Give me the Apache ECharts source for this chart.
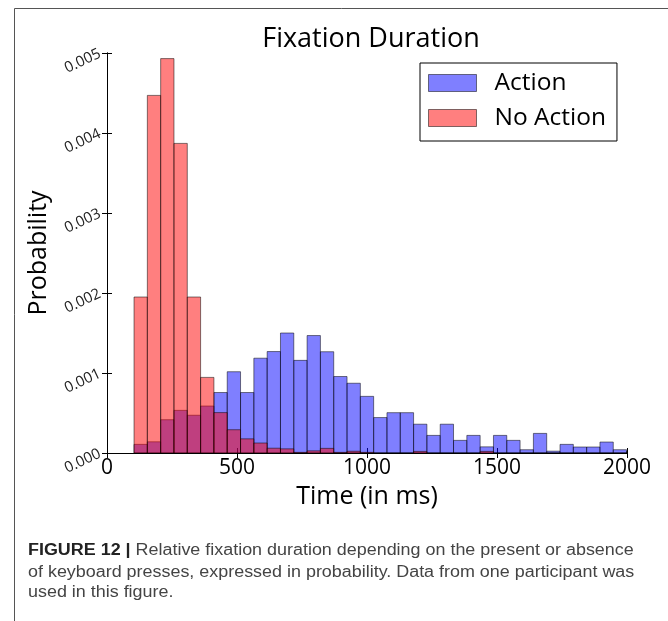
<!DOCTYPE html>
<html>
<head>
<meta charset="utf-8">
<script src="https://cdn.jsdelivr.net/npm/echarts@6/dist/echarts.min.js"></script>
<style>
html,body{margin:0;padding:0;background:#fff;}
#chart{width:668px;height:621px;}
</style>
</head>
<body>
<div id="chart"></div>
<script>
// Histogram bins (ms)
const binStart = 104;
const binWidth = 51.2;
// Probability density per bin
const actionValues = [
  0.000108, 0.000140, 0.000416, 0.000533, 0.000472, 0.000587, 0.000756, 0.001016,
  0.000756, 0.001185, 0.001268, 0.001500, 0.001158, 0.001468, 0.001266, 0.000956,
  0.000872, 0.000708, 0.000443, 0.000504, 0.000504, 0.000360, 0.000220, 0.000360,
  0.000158, 0.000220, 0.000077, 0.000220, 0.000158, 0.000041, 0.000245, 0.000023,
  0.000108, 0.000075, 0.000075, 0.000137, 0.000041, 0.000020
];
const noActionValues = [
  0.001950, 0.004470, 0.004930, 0.003870, 0.001950, 0.000945, 0.000505, 0.000291,
  0.000177, 0.000125, 0.000060, 0.000052, 0.000008, 0.000027, 0.000058, 0.000008,
  0.000022, 0.000008, 0, 0, 0, 0.000020, 0, 0,
  0, 0, 0.000020, 0, 0, 0, 0, 0,
  0, 0, 0, 0, 0, 0
];
const xTicks = [0, 500, 1000, 1500, 2000];
const yTicks = [0, 0.001, 0.002, 0.003, 0.004, 0.005];
const seriesNames = ['Action', 'No Action'];
const titleText = 'Fixation Duration';
const xName = 'Time (in ms)';
const yName = 'Probability';
const captionBold = 'FIGURE 12 |';
const captionLines = [
  'Relative fixation duration depending on the present or absence',
  'of keyboard presses, expressed in probability. Data from one participant was',
  'used in this figure.'
];

const FONT = '"Open Sans", "DejaVu Sans", sans-serif';
const CAPFONT = '"Liberation Sans", Arial, sans-serif';
const blueFill = 'rgba(0,0,255,0.5)';
const redFill = 'rgba(255,0,0,0.5)';
const edge = 'rgba(0,0,0,0.5)';

function toBins(vals) {
  return vals.map((v, i) => [binStart + i * binWidth, binStart + (i + 1) * binWidth, v]);
}

function makeRender(fill) {
  return function (params, api) {
    const x0 = api.value(0), x1 = api.value(1), v = api.value(2);
    const p0 = api.coord([x0, v]);
    const p1 = api.coord([x1, 0]);
    const cs = params.coordSys;
    const rect = echarts.graphic.clipRectByRect(
      { x: p0[0], y: p0[1], width: p1[0] - p0[0], height: p1[1] - p0[1] },
      { x: cs.x, y: cs.y, width: cs.width, height: cs.height }
    );
    if (!rect) return;
    return { type: 'rect', shape: rect, style: { fill: fill, stroke: edge, lineWidth: 1 } };
  };
}

const chart = echarts.init(document.getElementById('chart'), null, { renderer: 'canvas' });

const axisCommon = {
  type: 'value',
  min: xTicks[0], max: xTicks[xTicks.length - 1], interval: xTicks[1] - xTicks[0],
  axisLine: { show: true, lineStyle: { color: '#000', width: 1 } },
  axisTick: { show: true, inside: true, length: 5, lineStyle: { color: '#000' } },
  splitLine: { show: false }
};
const yCommon = {
  type: 'value',
  min: yTicks[0], max: yTicks[yTicks.length - 1], interval: yTicks[1] - yTicks[0],
  axisLine: { show: true, lineStyle: { color: '#000', width: 1 } },
  axisTick: { show: true, inside: true, length: 5, lineStyle: { color: '#000' } },
  splitLine: { show: false }
};

const capScale = 1.12;

chart.setOption({
  animation: false,
  backgroundColor: '#fff',
  title: {
    text: titleText,
    left: 366, top: 21, textAlign: 'center',
    textStyle: { fontFamily: FONT, fontSize: 27, fontWeight: 'normal', color: '#000' }
  },
  grid: { left: 107, right: 41, top: 53, bottom: 168, containLabel: false },
  legend: {
    orient: 'vertical',
    left: 420, top: 63,
    backgroundColor: '#fff',
    borderColor: '#000', borderWidth: 1, borderRadius: 0,
    padding: [6, 11, 9, 8],
    itemWidth: 48, itemHeight: 17, itemGap: 7,
    icon: 'rect',
    textStyle: { fontFamily: FONT, fontSize: 24.5, lineHeight: 28, color: '#000', padding: [0, 0, 0, 13] },
    data: [
      { name: seriesNames[0], itemStyle: { color: blueFill, borderColor: edge, borderWidth: 1 } },
      { name: seriesNames[1], itemStyle: { color: redFill, borderColor: edge, borderWidth: 1 } }
    ]
  },
  xAxis: [
    Object.assign({}, axisCommon, {
      position: 'bottom',
      name: xName, nameLocation: 'middle', nameGap: 30,
      nameTextStyle: { fontFamily: FONT, fontSize: 25, color: '#000' },
      axisLabel: { fontFamily: FONT, fontSize: 21, color: '#000', margin: 5, formatter: v => String(v) }
    }),
    Object.assign({}, axisCommon, { position: 'top', axisLabel: { show: false } })
  ],
  yAxis: [
    Object.assign({}, yCommon, {
      position: 'left',
      name: yName, nameLocation: 'middle', nameGap: 44, nameRotate: 90,
      nameTextStyle: { fontFamily: FONT, fontSize: 25, color: '#000' },
      axisLabel: {
        fontFamily: FONT, fontSize: 15, color: '#222', rotate: 25, margin: 7,
        formatter: v => v.toFixed(3)
      }
    }),
    Object.assign({}, yCommon, { position: 'right', axisLabel: { show: false } })
  ],
  series: [
    {
      name: seriesNames[0], type: 'custom', xAxisIndex: 0, yAxisIndex: 0,
      itemStyle: { color: blueFill },
      renderItem: makeRender(blueFill),
      encode: { x: [0, 1], y: 2 },
      data: toBins(actionValues)
    },
    {
      name: seriesNames[1], type: 'custom', xAxisIndex: 0, yAxisIndex: 0,
      itemStyle: { color: redFill },
      renderItem: makeRender(redFill),
      encode: { x: [0, 1], y: 2 },
      data: toBins(noActionValues)
    }
  ],
  graphic: [
    {
      type: 'polyline', silent: true,
      shape: { points: [[14.5, 621], [14.5, 8.5], [668, 8.5]] },
      style: { stroke: '#555', lineWidth: 1, fill: null }
    },
    {
      type: 'text', x: 28, y: 551, scaleX: capScale, silent: true,
      style: {
        text: '{b|' + captionBold + '} {n|' + captionLines[0] + '}',
        verticalAlign: 'middle',
        rich: {
          b: { fontFamily: CAPFONT, fontSize: 16, fontWeight: 'bold', fill: '#222' },
          n: { fontFamily: CAPFONT, fontSize: 16, fill: '#444' }
        },
        fontFamily: CAPFONT, fontSize: 16, fill: '#444'
      }
    },
    {
      type: 'text', x: 28, y: 573, scaleX: capScale, silent: true,
      style: { text: captionLines[1], verticalAlign: 'middle', fontFamily: CAPFONT, fontSize: 16, fill: '#444' }
    },
    {
      type: 'text', x: 28, y: 593, scaleX: capScale, silent: true,
      style: { text: captionLines[2], verticalAlign: 'middle', fontFamily: CAPFONT, fontSize: 16, fill: '#444' }
    }
  ]
});
</script>
</body>
</html>
